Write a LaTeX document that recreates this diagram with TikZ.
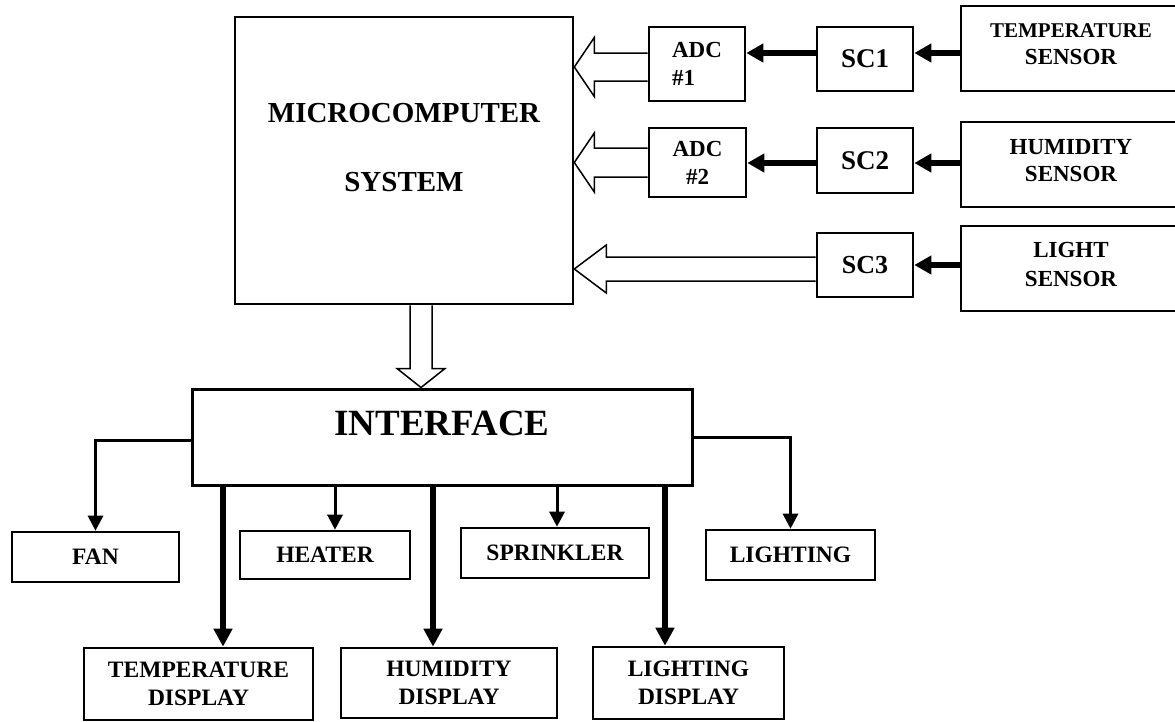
\documentclass[tikz,border=0pt]{standalone}
\usepackage{fontspec}
\setmainfont{Liberation Serif}
\usetikzlibrary{arrows.meta,calc}

\newcommand{\sz}[2]{\fontsize{#1}{#2}\selectfont\bfseries}
% hollow bus arrow pointing left: from, to, half shaft, half head, head length
\newcommand{\fatleft}[5]{%
  \draw[hollow] ($(#1)+(0,-#3)$) -- ($(#2 |- #1)+(#5,-#3)$) -- ($(#2 |- #1)+(#5,-#4)$)
    -- (#2 |- #1) -- ($(#2 |- #1)+(#5,#4)$) -- ($(#2 |- #1)+(#5,#3)$) -- ($(#1)+(0,#3)$);}

\tikzset{
  blk/.style={draw, line width=2.6pt, inner sep=0pt, align=center},
  sensbox/.style={blk, minimum width=220pt, minimum height=85pt, text depth=9pt},
  wire/.style={line width=3pt, -{Triangle[length=15pt,width=15pt]}},
  bus/.style={line width=5.5pt, -{Triangle[length=18pt,width=18pt]}},
  sig/.style={line width=6pt, -{Triangle[length=17pt,width=18pt]}},
  hollow/.style={line width=1.5pt},
}

\begin{document}
\begin{tikzpicture}[x=1pt, y=-1pt]
\useasboundingbox (0,0) rectangle (1175,721);
\clip (0,0) rectangle (1175,721);

% top half
\node[blk, minimum width=338pt, minimum height=287pt] (micro) at (404,160.5) {};
\node[font=\sz{29}{69}, align=center] (microtxt) at ([yshift=12.5pt]micro.center) {MICROCOMPUTER\\SYSTEM};

\node[blk, minimum width=96pt, minimum height=74pt, font=\sz{23}{28}, align=left] (adc1) at (697,64) {ADC\\\#1};
\node[blk, minimum width=97pt, minimum height=69pt, font=\sz{23}{28}] (adc2) at (697.5,162.5) {ADC\\\#2};

\node[blk, minimum width=96pt, minimum height=64pt, font=\sz{27}{27}] (sc1) at (865,59) {SC1};
\node[blk, minimum width=96pt, minimum height=65pt, font=\sz{27}{27}] (sc2) at (865,160.5) {SC2};
\node[blk, minimum width=96pt, minimum height=64pt, font=\sz{26}{26}] (sc3) at (865,265) {SC3};

\node[sensbox, font=\sz{23}{27}] (tsens) at (1071,48.5) {{\fontsize{21}{27}\selectfont TEMPERATURE}\\SENSOR};
\node[sensbox, font=\sz{23}{27}] (hsens) at (1071,164.5) {HUMIDITY\\SENSOR};
\node[sensbox, font=\sz{23}{29}] (lsens) at (1071,268.5) {LIGHT\\SENSOR};

\coordinate (row1) at ([yshift=6pt]sc1.west);
\coordinate (row2) at ([yshift=-2.5pt]sc2.west);
\draw[sig] (tsens.west |- row1) -- (sc1.east |- row1);
\draw[sig] (row1) -- (adc1.east |- row1);
\draw[sig] (hsens.west |- row2) -- (sc2.east |- row2);
\draw[sig] (row2) -- (adc2.east |- row2);
\draw[sig] (lsens.west |- sc3.west) -- (sc3.east);

\coordinate (adc1out) at ([yshift=-3pt]adc1.west);
\coordinate (sc3out) at ([yshift=-4pt]sc3.west);
\fatleft{adc1out}{micro.east}{14}{29.5}{20}
\fatleft{adc2.west}{micro.east}{14.5}{29.5}{20}
\fatleft{sc3out}{micro.east}{12}{24}{32}

% bottom half
\node[blk, line width=3pt, minimum width=500pt, minimum height=96pt] (iface) at (442,437) {};
\node[font=\sz{37}{37}] (ifacetxt) at ([yshift=14pt]iface.center) {INTERFACE};

\coordinate (busout) at ([xshift=17pt]micro.south);
\draw[hollow] ($(busout)+(-11,0)$) -- ($(busout |- iface.north)+(-11,-19)$)
  -- ($(busout |- iface.north)+(-24,-19)$) -- (busout |- iface.north)
  -- ($(busout |- iface.north)+(24,-19)$) -- ($(busout |- iface.north)+(11,-19)$)
  -- ($(busout)+(11,0)$);

\node[blk, minimum width=167pt, minimum height=50pt, font=\sz{23.5}{27.5}] (fan) at (95.5,557) {FAN};
\node[blk, minimum width=170pt, minimum height=48pt, font=\sz{23.5}{27.5}] (heater) at (325,555) {HEATER};
\node[blk, minimum width=188pt, minimum height=50pt, font=\sz{23.5}{27.5}] (sprink) at (555,553) {SPRINKLER};
\node[blk, minimum width=169pt, minimum height=50pt, font=\sz{23.5}{27.5}] (light) at (790.5,555) {LIGHTING};

\node[blk, minimum width=229pt, minimum height=72pt, font=\sz{23.5}{27.5}] (tdisp) at (198.5,684) {TEMPERATURE\\DISPLAY};
\node[blk, minimum width=216pt, minimum height=70pt, font=\sz{23.5}{27.5}] (hdisp) at (449,683) {HUMIDITY\\DISPLAY};
\node[blk, minimum width=191pt, minimum height=72pt, font=\sz{23.5}{27.5}] (ldisp) at (688.5,683) {LIGHTING\\DISPLAY};

\coordinate (htin) at ([xshift=10pt]heater.north);
\coordinate (spin) at ([xshift=2pt]sprink.north);
\coordinate (tdin) at ([xshift=24.5pt]tdisp.north);
\coordinate (hdin) at ([xshift=-16pt]hdisp.north);
\coordinate (ldin) at ([xshift=-23.5pt]ldisp.north);

\draw[wire] ([yshift=-3pt]iface.west) -| (fan.north);
\draw[wire] (iface.east) -| (light.north);
\draw[wire] (htin |- iface.south) -- (htin);
\draw[wire] (spin |- iface.south) -- (spin);
\draw[bus] (tdin |- iface.south) -- (tdin);
\draw[bus] (hdin |- iface.south) -- (hdin);
\draw[bus] (ldin |- iface.south) -- (ldin);
\end{tikzpicture}
\end{document}
